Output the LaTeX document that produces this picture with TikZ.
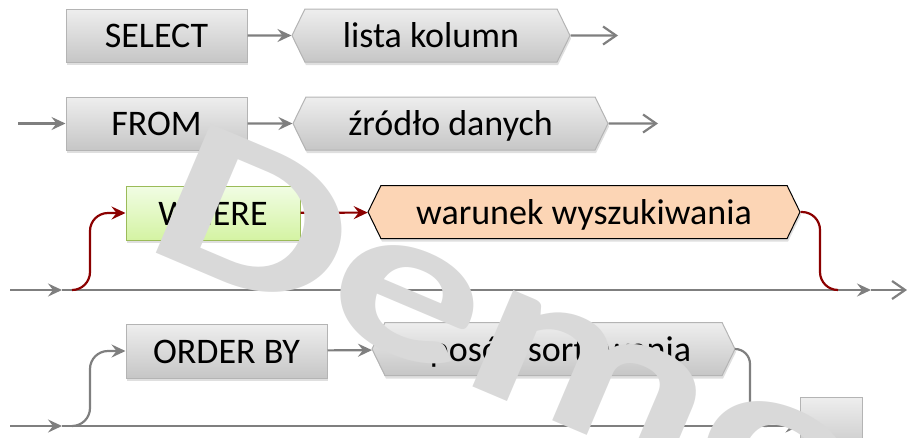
\documentclass[tikz,border=0pt]{standalone}
\usepackage{fontspec}
\setmainfont{Carlito}
\usetikzlibrary{arrows.meta,shapes.symbols,shadows}
\definecolor{linegray}{HTML}{7F7F7F}
\definecolor{flowred}{HTML}{8B0000}
\definecolor{boxedge}{HTML}{B4B4B4}
\definecolor{boxtop}{HTML}{EEEEEE}
\definecolor{boxbot}{HTML}{C6C6C6}
\definecolor{wheretop}{HTML}{F1FDE4}
\definecolor{wherebot}{HTML}{D4F3A3}
\definecolor{whereedge}{HTML}{9BBB59}
\definecolor{peach}{HTML}{FCD5B5}
\definecolor{wmark}{HTML}{D9D9D9}
\tikzset{
  kw/.style={rectangle, draw=boxedge, line width=1pt, top color=boxtop, bottom color=boxbot,
    drop shadow={shadow xshift=1pt, shadow yshift=-3pt, opacity=.25},
    minimum height=53pt, inner sep=0pt, font=\fontsize{36}{40}\selectfont,
    text height=24pt, text depth=0pt},
  arg/.style={kw, shape=signal, signal to=west and east, signal pointer angle=128},
  flow/.style={draw=linegray, line width=2.2pt, -{Stealth[length=14pt,width=13pt,inset=5pt]}},
  flowend/.style={draw=linegray, line width=2.2pt, -{Straight Barb[length=13pt,width=18pt]}},
  redflow/.style={flow, draw=flowred},
}
\begin{document}
\begin{tikzpicture}[x=1pt,y=-1pt]
\useasboundingbox (0,0) rectangle (907,437);
% SELECT
\node[kw, minimum width=181pt] (sel) at (156.5,35.5) {SELECT};
\node[arg, minimum width=278pt] (lista) at (431,35.5) {lista kolumn};
\coordinate (e1) at (618,35.5);
\draw[flow] (sel) -- (lista);
\draw[flowend] (lista) -- (e1);
% FROM
\coordinate (s2) at (18,123.5);
\node[kw, minimum width=181pt] (from) at (156.5,123.5) {FROM};
\node[arg, minimum width=315pt] (zrodlo) at (450.5,123.5) {źródło danych};
\coordinate (e2) at (658,123.5);
\draw[flow] (s2) -- (from);
\draw[flow] (from) -- (zrodlo);
\draw[flowend] (zrodlo) -- (e2);
% WHERE
\node[kw, minimum width=174pt, minimum height=54pt, draw=whereedge, top color=wheretop,
  bottom color=wherebot] (where) at (213,213) {WHERE};
\node[arg, minimum width=432pt, draw=black, top color=peach, bottom color=peach] (warunek)
  at (584,212) {warunek wyszukiwania};
\coordinate (a1) at (10,290);
\coordinate (t1) at (62,290);
\coordinate (t2) at (871,290);
\coordinate (b1) at (907,290);
\coordinate (j1) at (72,290);
\coordinate (k1) at (90,213);
\coordinate (k2) at (820,290);
\coordinate (j2) at (838,290);
\draw[flow] (a1) -- (t1);
\draw[flow] (t1) -- (t2);
\draw[flowend] (t2) -- (b1);
\draw[redflow, rounded corners=18pt] (j1) -| (k1) -- (where);
\draw[redflow] (where) -- (warunek);
\draw[draw=flowred, line width=2.2pt, rounded corners=18pt] (warunek.east) -| (k2) -- (j2);
% ORDER BY
\node[kw, minimum width=201pt, minimum height=54pt] (order) at (226.5,351) {ORDER BY};
\node[arg, minimum width=363pt] (sposob) at (553.5,349) {sposób sortowania};
\node[kw, minimum width=62pt, minimum height=58pt] (last) at (831,426) {};
\coordinate (a2) at (10,426);
\coordinate (t3) at (62,426);
\coordinate (j3) at (72,426);
\coordinate (k3) at (90,351);
\coordinate (k4) at (750,426);
\coordinate (j4) at (767,426);
\draw[flow] (a2) -- (t3);
\draw[flow] (t3) -- (last);
\draw[flow, rounded corners=18pt] (j3) -| (k3) -- (order);
\draw[flow] (order) -- (sposob);
\draw[draw=linegray, line width=2.2pt, rounded corners=15pt] (sposob.east) -| (k4) -- (j4);
% watermark
\node[text=wmark, font=\bfseries\fontsize{216}{216}\selectfont, inner sep=0pt, anchor=base west,
  rotate=-23, xscale=1.4] (wm) at (140,246) {Demo};
\end{tikzpicture}
\end{document}
